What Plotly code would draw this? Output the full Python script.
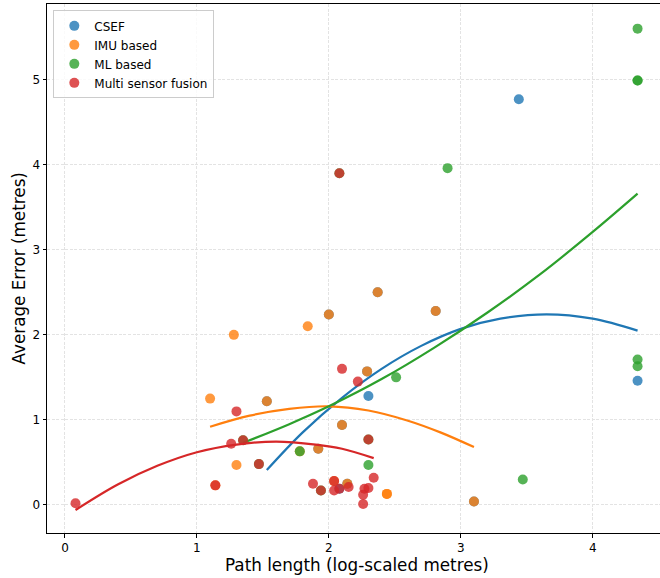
import plotly.graph_objects as go

# ---------------- data ----------------
categories = ["CSEF", "IMU based", "ML based", "Multi sensor fusion"]
colors = ["#1f77b4", "#ff7f0e", "#2ca02c", "#d62728"]

csef_x = [1.53, 1.92, 2.00, 2.10, 2.14, 2.29, 2.30, 2.37, 2.81, 3.10, 3.44, 4.34, 2.08]
csef_y = [1.22, 0.66, 2.24, 0.94, 0.25, 1.57, 1.28, 2.50, 2.28, 0.04, 4.77, 1.46, 0.19]

imu_x = [1.10, 1.28, 1.84, 1.30, 2.44, 2.44, 1.53, 1.92, 2.00, 2.10, 2.14, 2.29, 2.37,
         2.81, 3.10, 1.14, 2.04, 1.78]
imu_y = [1.25, 2.00, 2.10, 0.47, 0.13, 0.13, 1.22, 0.66, 2.24, 0.94, 0.25, 1.57, 2.50,
         2.28, 0.04, 0.23, 0.28, 0.63]

ml_x = [1.35, 1.47, 1.78, 1.94, 2.08, 2.30, 2.30, 2.51, 2.90, 3.47, 4.34, 4.34, 4.34, 4.34, 4.34]
ml_y = [0.76, 0.48, 0.63, 0.17, 3.90, 0.77, 0.47, 1.50, 3.96, 0.30, 5.60, 4.99, 4.99, 1.71, 1.63]

msf_x = [0.08, 1.14, 1.30, 1.26, 1.35, 1.47, 2.08, 2.10, 2.22, 2.30, 1.88, 1.94, 2.04,
         2.04, 2.08, 2.15, 2.34, 2.27, 2.30, 2.26, 2.26]
msf_y = [0.02, 0.23, 1.10, 0.72, 0.76, 0.48, 3.90, 1.60, 1.45, 0.77, 0.25, 0.17, 0.28,
         0.17, 0.19, 0.21, 0.32, 0.19, 0.20, 0.12, 0.01]

# fitted trend curves
csef_fit_x = [1.53, 1.8, 2.1, 2.4, 2.7, 3.0, 3.3, 3.65, 4.0, 4.34]
csef_fit_y = [0.41, 0.85, 1.26, 1.60, 1.87, 2.07, 2.19, 2.24, 2.19, 2.05]

imu_fit_x = [1.10, 1.4, 1.7, 2.0, 2.3, 2.6, 2.85, 3.10]
imu_fit_y = [0.92, 1.05, 1.13, 1.16, 1.11, 0.99, 0.85, 0.68]

ml_fit_x = [1.35, 1.7, 2.0, 2.4, 2.8, 3.2, 3.6, 4.0, 4.34]
ml_fit_y = [0.73, 0.95, 1.16, 1.48, 1.85, 2.26, 2.71, 3.21, 3.66]

msf_fit_x = [0.08, 0.4, 0.7, 1.0, 1.3, 1.6, 1.9, 2.1, 2.34]
msf_fit_y = [-0.06, 0.24, 0.46, 0.62, 0.71, 0.745, 0.71, 0.66, 0.55]

x_ticks = [0, 1, 2, 3, 4]
y_ticks = [0, 1, 2, 3, 4, 5]

series = [
    (csef_x, csef_y, csef_fit_x, csef_fit_y),
    (imu_x, imu_y, imu_fit_x, imu_fit_y),
    (ml_x, ml_y, ml_fit_x, ml_fit_y),
    (msf_x, msf_y, msf_fit_x, msf_fit_y),
]

fig = go.Figure()
for name, col, (sx, sy, fx, fy) in zip(categories, colors, series):
    fig.add_trace(go.Scatter(
        x=sx, y=sy, mode="markers", name=name,
        marker=dict(color=col, size=10, opacity=0.8, line=dict(width=0)),
    ))
    fig.add_trace(go.Scatter(
        x=fx, y=fy, mode="lines", showlegend=False,
        line=dict(color=col, width=2.2, shape="spline"),
        hoverinfo="skip",
    ))

font_family = "DejaVu Sans"
axis_common = dict(
    showgrid=True, gridcolor="#e3e3e3", gridwidth=0.8, griddash="3px,1.5px",
    zeroline=False, showline=True, linecolor="black", linewidth=1,
    ticks="outside", ticklen=3.5, tickwidth=0.8, tickcolor="black",
    tickfont=dict(family=font_family, size=12, color="black"),
)

fig.update_layout(
    width=660, height=578,
    margin=dict(l=47, r=0, t=4, b=45),
    plot_bgcolor="white", paper_bgcolor="white",
    font=dict(family=font_family, size=12, color="black"),
    xaxis=dict(range=[-0.136, 4.51], tickvals=x_ticks, mirror=True, **axis_common),
    yaxis=dict(range=[-0.33, 5.89], tickvals=y_ticks, **axis_common),
    legend=dict(
        x=0.0103, y=0.988, xanchor="left", yanchor="top",
        bgcolor="rgba(255,255,255,0.8)", bordercolor="#cccccc", borderwidth=1,
        font=dict(family=font_family, size=12, color="black"),
        tracegroupgap=0,
    ),
    annotations=[
        dict(text="Path length (log-scaled metres)", xref="paper", yref="paper",
             x=0.505, y=-0.0605, xanchor="center", yanchor="middle", showarrow=False,
             font=dict(family=font_family, size=16.8, color="black")),
        dict(text="Average Error (metres)", xref="paper", yref="paper",
             x=-0.0473, y=0.5, xanchor="center", yanchor="middle", showarrow=False,
             textangle=-90, font=dict(family=font_family, size=16.8, color="black")),
    ],
)

fig.write_html("out.html")
